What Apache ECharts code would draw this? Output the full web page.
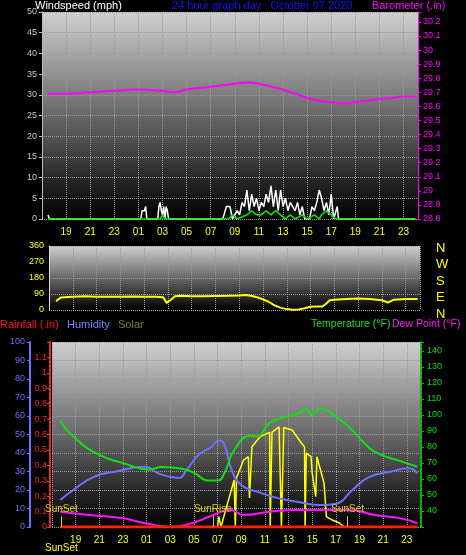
<!DOCTYPE html>
<html>
<head>
<meta charset="utf-8">
<script src="https://cdn.jsdelivr.net/npm/echarts@6/dist/echarts.min.js"></script>
<style>html,body{margin:0;padding:0;background:#000;}#chart{width:466px;height:555px;}</style>
</head>
<body>
<div id="chart"></div>
<script>
// times are hours since midnight of the previous day (19 = 19:00, 25 = 01:00 ...)
var baroData = [[17.5,29.69],[19,29.69],[21,29.70],[23,29.71],[25,29.72],[27,29.71],[28,29.70],[29,29.72],[31,29.74],[33,29.76],[34,29.77],[35,29.76],[36,29.74],[37,29.72],[38,29.69],[39,29.66],[40,29.64],[41,29.63],[42,29.62],[43,29.63],[44,29.64],[45,29.65],[46,29.66],[47,29.67],[48,29.67]];
var gustData = [[17.5,1],[17.6,0],[25.2,0],[25.3,2],[25.5,2],[25.6,3],[25.7,0],[26.6,0],[26.7,3],[26.8,4],[26.9,2],[27.0,1],[27.1,3],[27.2,0],[27.3,3],[27.4,2],[27.5,0],[32.0,0],[32.1,1],[32.3,3],[32.6,3],[32.8,0],[33.2,2],[33.4,1],[33.6,4],[33.8,3],[34.0,7],[34.2,2],[34.4,6],[34.6,3],[34.8,5],[35.0,2],[35.2,4],[35.4,3],[35.6,6],[35.8,4],[36.0,8],[36.2,3],[36.4,7],[36.6,2],[36.8,7],[37.0,3],[37.2,5],[37.4,2],[37.6,4],[37.8,3],[38.0,2],[38.2,4],[38.4,1],[38.6,3],[38.8,0],[39.2,0],[39.4,3],[39.6,2],[39.8,4],[40.0,7],[40.2,5],[40.4,2],[40.6,4],[40.8,1],[41.0,6],[41.2,0],[41.5,3],[41.6,0],[48,0]];
var avgWindData = [[17.5,0],[26.8,0],[27.0,1],[27.2,0],[32.5,0],[32.8,1],[33.2,0],[34.0,1],[34.4,2],[34.8,1],[35.2,1],[35.6,2],[36.0,1],[36.4,2],[36.8,1],[37.2,0],[37.6,1],[38.0,0],[38.6,1],[39.0,0],[39.6,1],[40.0,0],[40.2,1],[40.6,2],[41.0,1],[41.4,0],[48,0]];
var dirData = [[17.6,50],[18,70],[19,75],[20,78],[21,75],[22,75],[23,75],[24,76],[25,74],[26,75],[26.6,72],[26.9,40],[27.2,55],[27.6,78],[28,80],[29,78],[30,78],[31,79],[32,80],[33,82],[33.5,85],[34,80],[34.5,72],[35,60],[35.5,45],[36,25],[36.5,12],[37,5],[37.5,2],[38,3],[38.5,10],[39,18],[39.5,20],[40,20],[40.3,35],[40.6,55],[41,58],[42,62],[43,64],[44,62],[45,55],[45.5,42],[46,58],[47,62],[48,62]];
var tempData = [[17.7,96.4],[18.8,86.5],[21,75],[23,70],[25.2,66],[26.3,67.5],[27.9,66.5],[29,64],[30.2,59],[31,59],[31.6,64],[32.4,78],[33.8,87],[34.3,86.5],[35.4,95],[36.8,99],[37.9,101],[38.5,104],[39,100],[39.7,104],[41,99],[42.1,92.7],[43.2,84],[44.3,77],[46.5,71],[47.9,67.7]];
var humData = [[17.7,14.6],[18.8,20],[20.5,27],[22.4,30],[24.9,32.6],[26,29],[27.7,26.5],[28.4,31],[29.4,39],[30.5,43.4],[31.1,46.7],[31.5,45.6],[32.2,30.8],[33,22.7],[34.4,19],[36.1,15.6],[37.7,13.7],[39.7,11.9],[41,12.6],[42.4,20],[43.8,27],[45.7,30],[47.1,31.7],[47.9,29]];
var dewData = [[17.7,39.6],[20.2,37.5],[23,35.4],[24.9,32.3],[27.1,30],[28.8,32.3],[30.4,36.7],[32.1,40.6],[33.2,37.5],[35.4,39.6],[37.7,40.6],[39.6,40.6],[42.1,40.6],[44.3,37.5],[46.5,35.4],[47.9,32.3]];
var solarData = [[17.7,0],[31.0,0],[31.1,67],[31.3,0],[31.5,60],[32.4,305],[32.5,0],[32.6,320],[33.2,434],[33.6,456],[33.7,188],[33.9,521],[34.6,586],[35.4,614],[35.45,0],[35.6,614],[36.2,650],[36.4,0],[36.6,645],[37.3,629],[38.1,543],[38.35,521],[38.4,0],[38.5,480],[38.9,456],[39.0,350],[39.3,197],[39.4,456],[40,285],[40.2,67],[40.7,45],[41.3,26],[41.7,0],[47.9,0]];
var rainData = [[17.7,0],[47.9,0]];
var sunEvents = [[17.8,'SunSet'],[30.6,'SunRise'],[42,'SunSet']];
var moonEvents = [[36.6,'Moon Set']];

var SHIFT = 1; // x shifted by one hour so odd-hour ticks fall on multiples of 2
function sh(arr){ return arr.map(function(p){ return [p[0]-SHIFT, p[1]]; }); }

var bg = new echarts.graphic.LinearGradient(0,0,0,1,[{offset:0,color:'#cfcfcf'},{offset:1,color:'#000'}]);
var gridLine = {show:true, lineStyle:{color:'#9a9a9a', type:'dotted', width:1}};
var font = 'Liberation Sans';

function xAxis(idx, showLabel){
  return {
    type:'value', gridIndex:idx, min:16, max:47.2, interval:2,
    axisLine:{show:false}, axisTick:{show:false}, splitLine:gridLine,
    axisLabel:{show:showLabel, color:'#ffff00', fontSize:10, fontFamily:font, margin:8,
      formatter:function(v){ if (v<17) return ''; var h=(v+SHIFT)%24; return (h<10?'0':'')+h; }}
  };
}

var chart = echarts.init(document.getElementById('chart'));
chart.setOption({
  backgroundColor:'#000',
  animation:false,
  grid:[
    {left:42, right:48, top:12, bottom:336, show:true, backgroundColor:bg, borderWidth:0},
    {left:49, right:46, top:246, bottom:245, show:true, backgroundColor:bg, borderWidth:0},
    {left:52, right:45, top:342, bottom:28, show:true, backgroundColor:bg, borderWidth:0}
  ],
  xAxis:[xAxis(0,true), xAxis(1,false), xAxis(2,true)],
  yAxis:[
    {type:'value', gridIndex:0, min:0, max:50, interval:5, splitLine:gridLine,
      axisLine:{show:true, lineStyle:{color:'#bbb'}}, axisTick:{show:true, length:3},
      axisLabel:{color:'#c8c8c8', fontSize:9, fontFamily:font, margin:5}},
    {type:'value', gridIndex:0, position:'right', min:28.8, max:30.27, interval:0.1, splitLine:{show:false},
      axisLine:{show:true, lineStyle:{color:'#ff00ff'}}, axisTick:{show:true, length:3},
      axisLabel:{color:'#ff00ff', fontSize:9, fontFamily:font, margin:5,
        formatter:function(v){ return v>30.25?'':+v.toFixed(1)+''; }}},
    {type:'value', gridIndex:1, min:0, max:360, interval:90, splitLine:gridLine,
      axisLine:{show:true, lineStyle:{color:'#ddd'}}, axisTick:{show:false},
      axisLabel:{color:'#ffff00', fontSize:9, fontFamily:font, margin:5}},
    {type:'value', gridIndex:2, position:'left', offset:22, min:0, max:100, interval:10, splitLine:gridLine,
      axisLine:{show:true, lineStyle:{color:'#7070ff', width:2}}, axisTick:{show:true, length:3},
      axisLabel:{color:'#7070ff', fontSize:9, fontFamily:font, margin:5}},
    {type:'value', gridIndex:2, position:'left', offset:2, min:0, max:1.2, interval:0.1, splitLine:{show:false},
      axisLine:{show:true, lineStyle:{color:'#ff3030', type:'dotted', width:2}}, axisTick:{show:true, length:3},
      axisLabel:{color:'#ff2020', fontSize:9, fontFamily:font, margin:3,
        formatter:function(v){ return v>1.15?'':+v.toFixed(1)+''; }}},
    {type:'value', gridIndex:2, position:'right', min:30, max:145.6, interval:10, splitLine:{show:false},
      axisLine:{show:true, lineStyle:{color:'#00c000', type:'dotted', width:2}}, axisTick:{show:true, length:3},
      axisLabel:{color:'#00e000', fontSize:9, fontFamily:font, margin:6,
        formatter:function(v){ return (v<40||v>141)?'':v; }}},
    {type:'value', gridIndex:2, show:false, min:0, max:1200}
  ],
  series:[
    {type:'line', xAxisIndex:0, yAxisIndex:1, data:sh(baroData), symbol:'none', smooth:true, lineStyle:{color:'#ff00ff', width:2}},
    {type:'line', xAxisIndex:0, yAxisIndex:0, data:sh(gustData), symbol:'none', lineStyle:{color:'#ffffff', width:1.5}},
    {type:'line', xAxisIndex:0, yAxisIndex:0, data:sh(avgWindData), symbol:'none', lineStyle:{color:'#00ee00', width:1.5}},
    {type:'line', xAxisIndex:1, yAxisIndex:2, data:sh(dirData), symbol:'none', lineStyle:{color:'#ffff00', width:2}},
    {type:'line', xAxisIndex:2, yAxisIndex:6, data:sh(solarData), symbol:'none', lineStyle:{color:'#ffff00', width:1.5},
      markLine:{symbol:'none', silent:true, lineStyle:{color:'#e0d000', type:'solid', width:1},
        label:{position:'end', formatter:'{b}', color:'#e0d000', fontSize:10, fontFamily:font, distance:2},
        data:sunEvents.map(function(e){ return [{name:e[1], coord:[e[0]-SHIFT,0]},{coord:[e[0]-SHIFT,70]}]; })}},
    {type:'line', xAxisIndex:2, yAxisIndex:3, data:sh(humData), symbol:'none', smooth:true, lineStyle:{color:'#7070ff', width:2}},
    {type:'line', xAxisIndex:2, yAxisIndex:5, data:sh(tempData), symbol:'none', smooth:true, lineStyle:{color:'#10e010', width:2}},
    {type:'line', xAxisIndex:2, yAxisIndex:5, data:sh(dewData), symbol:'none', smooth:true, lineStyle:{color:'#ff10ff', width:2}},
    {type:'line', xAxisIndex:2, yAxisIndex:4, data:sh(rainData), symbol:'none', lineStyle:{color:'#ff2000', width:3},
      markPoint:{symbol:'none', silent:true,
        label:{show:true, formatter:'{b}', color:'#e0a000', fontSize:10, fontFamily:font, offset:[0,-6]},
        data:moonEvents.map(function(e){ return {name:e[1], coord:[e[0]-SHIFT,0]}; })}}
  ],
  graphic:[
    {type:'text', left:35, top:0, style:{text:'Windspeed (mph)', fill:'#ffffff', font:'11px '+font}},
    {type:'text', left:172, top:0, style:{text:'24 hour graph day : October 07 2020', fill:'#1010ff', font:'11px '+font}},
    {type:'text', left:372, top:0, style:{text:'Barometer (.in)', fill:'#ff00ff', font:'11px '+font}},
    {type:'text', left:0, top:319, style:{text:'Rainfall (.in)', fill:'#ff1010', font:'11px '+font}},
    {type:'text', left:67, top:319, style:{text:'Humidity', fill:'#8080ff', font:'11px '+font}},
    {type:'text', left:118, top:319, style:{text:'Solar', fill:'#808020', font:'11px '+font}},
    {type:'text', left:311, top:319, style:{text:'Temperature (°F)', fill:'#10e010', font:'10.5px '+font}},
    {type:'text', left:392, top:319, style:{text:'Dew Point (°F)', fill:'#ff10ff', font:'10.5px '+font}},
    {type:'text', left:45, top:543, style:{text:'SunSet', fill:'#ffff00', font:'10px '+font}},
    {type:'text', left:436, top:240, style:{text:'N\nW\nS\nE\nN', fill:'#ffff00', font:'13px '+font, lineHeight:16.5}}
  ]
});
</script>
</body>
</html>
